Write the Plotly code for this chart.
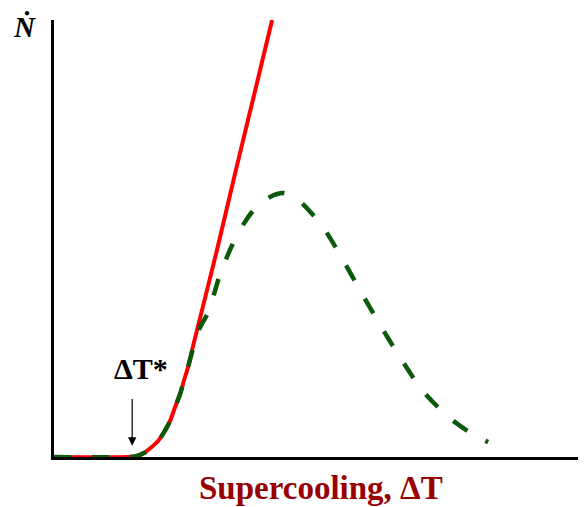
import plotly.graph_objects as go

# nucleation rate vs supercooling (arbitrary units)
red_x = [0, 13.9, 15.4, 16.9, 18.2, 19.6, 20.7, 21.8, 22.7, 23.7, 24.4, 25.2, 26.1,
         30.5, 34.2, 37.6, 41.0]
red_y = [0, 0, 0.2, 0.9, 2.1, 3.7, 5.7, 8.2, 11.2, 14.4, 17.4, 20.6, 25.2,
         46.7, 65.7, 82.8, 100]

green_x = [0, 13.9, 15.4, 16.9, 18.2, 19.6, 20.7, 21.8, 22.7, 23.7, 24.4, 25.2,
           26.3, 27.4, 29.0, 31.2, 33.5, 35.9, 38.0, 40.6, 43.1, 45.7, 48.7, 50.9,
           53.8, 57.5, 61.3, 65.0, 69.2, 74.4, 79.0, 81.6]
green_y = [0, 0, 0.2, 0.9, 2.1, 3.7, 5.7, 8.2, 11.2, 14.4, 17.4, 20.6,
           25.6, 29.5, 33.2, 41.7, 48.5, 53.8, 57.2, 59.5, 60.4, 59.0, 55.4, 52.0,
           46.2, 38.2, 30.2, 22.9, 15.3, 8.9, 5.0, 3.4]

serif = "Liberation Serif, Times New Roman, serif"

fig = go.Figure()
fig.add_trace(go.Scatter(x=red_x, y=red_y, mode='lines',
                         line=dict(color='#ff0000', width=4, shape='spline', smoothing=0.8),
                         hoverinfo='skip'))
fig.add_trace(go.Scatter(x=green_x, y=green_y, mode='lines',
                         line=dict(color='#0b5a0b', width=4.5, shape='spline', smoothing=0.8,
                                   dash='17px,21px'),
                         hoverinfo='skip'))

# y label (N dot)
fig.add_annotation(x=-0.055, y=0.985, xref='paper', yref='paper', showarrow=False,
                   xanchor='center', yanchor='middle',
                   text='<b><i>Ṅ</i></b>', font=dict(family=serif, size=29, color='black'))
# delta T* marker
fig.add_annotation(x=16.3, y=20.2, xref='x', yref='y', showarrow=False,
                   xanchor='center', yanchor='middle',
                   text='<b>ΔT*</b>', font=dict(family=serif, size=30, color='black'))
fig.add_annotation(x=14.7, y=2.6, ax=14.7, ay=13.6, xref='x', yref='y', axref='x', ayref='y',
                   showarrow=True, arrowhead=2, arrowsize=1.4, arrowwidth=1.2,
                   arrowcolor='black', text='')
# x label
fig.add_annotation(x=0.502, y=-0.071, xref='paper', yref='paper', showarrow=False,
                   xanchor='center', yanchor='middle',
                   text='<b>Supercooling, ΔT</b>', font=dict(family=serif, size=33, color='#990000'))

axis = dict(range=[0, 100], showline=True, linewidth=3, linecolor='black',
            showgrid=False, zeroline=False, showticklabels=False, ticks='', fixedrange=True)

# page body has an 8px margin, so the figure is shrunk to keep the plot area in place
fig.update_layout(width=578, height=499, margin=dict(l=46, r=0, t=12, b=50),
                  paper_bgcolor='white', plot_bgcolor='white', showlegend=False,
                  hovermode=False, xaxis=axis, yaxis=axis)

fig.write_html("out.html")
